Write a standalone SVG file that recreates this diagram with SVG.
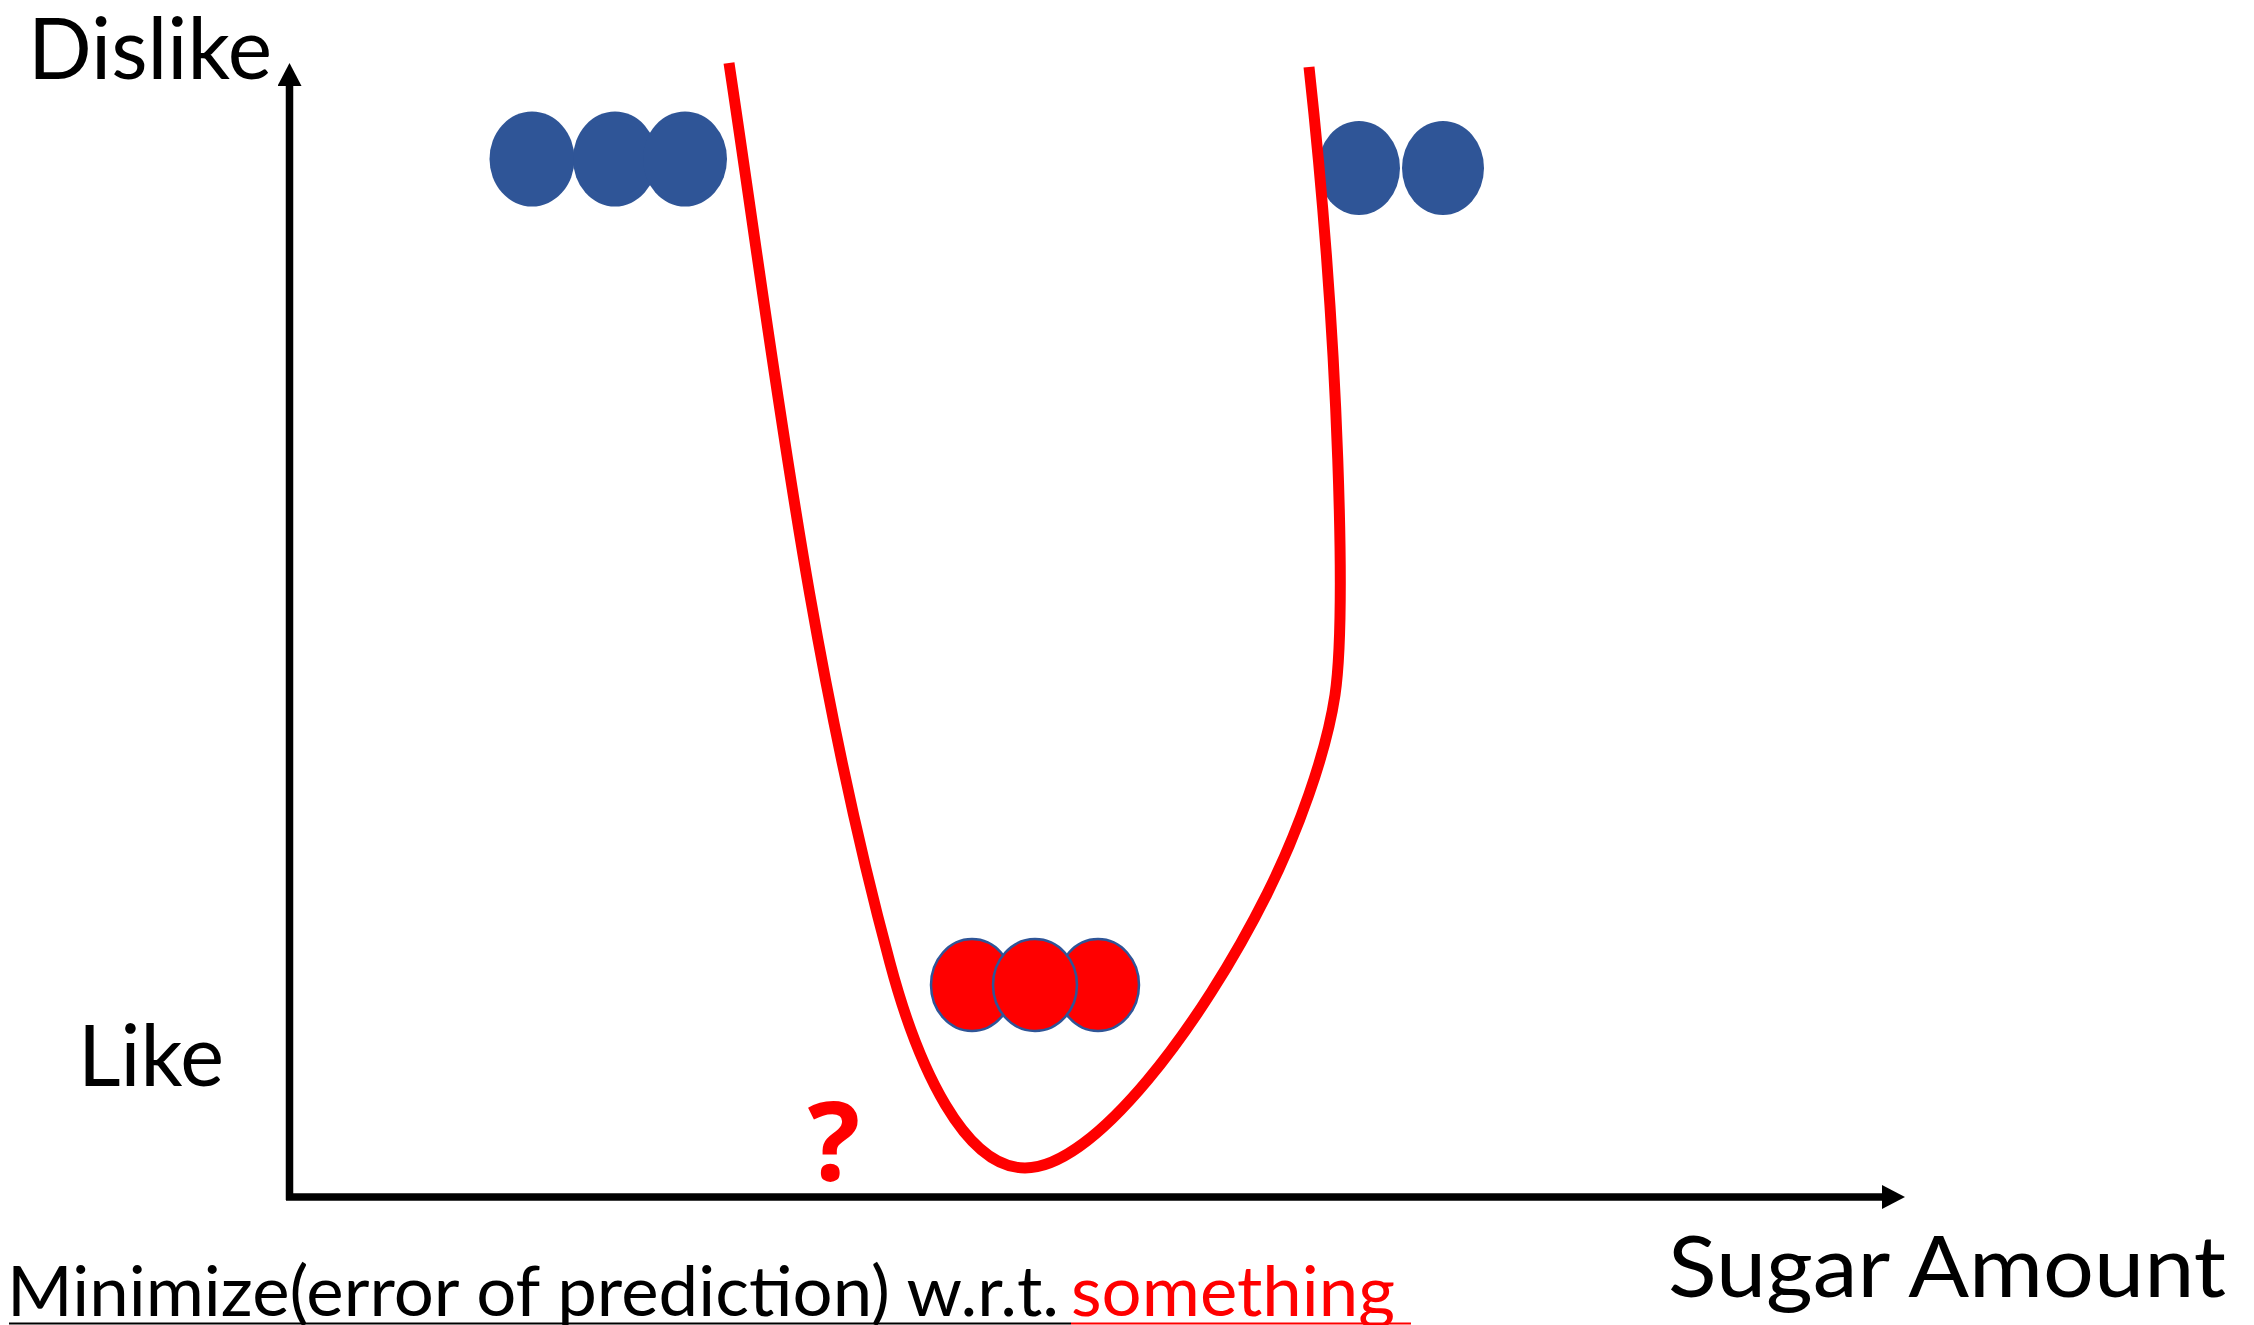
<svg xmlns="http://www.w3.org/2000/svg" width="2254" height="1325" viewBox="0 0 2254 1325">
  <style>
    .lbl { font-family: Lato, "Liberation Sans", sans-serif; fill: #000000; }
    .big { font-size: 85px; }
    .small { font-size: 70px; }
    .axis { stroke: #000000; stroke-width: 7.5; fill: none; }
    .blue { fill: #2F5597; stroke: none; }
    .redpt { fill: #FF0000; stroke: #2F5597; stroke-width: 2.5; }
    .curve { fill: none; stroke: #FF0000; stroke-width: 11; stroke-linejoin: round; }
  </style>
  <defs>
    <marker id="arrow" markerUnits="userSpaceOnUse" markerWidth="24" markerHeight="24" viewBox="0 0 23 24" refX="0" refY="12" orient="auto">
      <path d="M0,0 L23,12 L0,24 Z" fill="#000000"/>
    </marker>
  </defs>
  <rect x="0" y="0" width="2254" height="1325" fill="#FFFFFF"/>

  <g id="connectors">
    <path id="y-axis" class="axis" d="M289.5,1200 L289.5,86" marker-end="url(#arrow)"/>
    <path id="x-axis" class="axis" d="M286,1197 L1882,1197" marker-end="url(#arrow)"/>
  </g>

  <g id="blue-left">
    <ellipse class="blue" cx="532" cy="159" rx="42.5" ry="47.5"/>
    <ellipse class="blue" cx="615" cy="159" rx="42" ry="47.5"/>
    <ellipse class="blue" cx="685" cy="159" rx="42" ry="47.5"/>
  </g>
  <g id="blue-right">
    <ellipse class="blue" cx="1359" cy="168" rx="41" ry="47"/>
    <ellipse class="blue" cx="1443" cy="168" rx="41" ry="47"/>
  </g>

  <g id="curve">
    <path class="curve" d="M729,63 C774,363 809,663 890,963 C918,1068 965,1168 1025,1168 C1095,1168 1202,1024 1267,894 C1297,834 1326,755 1335,695 C1346,620 1340,350 1309,67"/>
  </g>

  <g id="red-points">
    <ellipse class="redpt" cx="972" cy="985" rx="41" ry="46"/>
    <ellipse class="redpt" cx="1098" cy="985" rx="41" ry="46"/>
    <ellipse class="redpt" cx="1035" cy="985" rx="42" ry="46"/>
  </g>

  <g id="label-dislike">
    <text class="lbl big" x="28" y="79" textLength="244" lengthAdjust="spacingAndGlyphs">Dislike</text>
  </g>
  <g id="label-like">
    <text class="lbl big" x="78" y="1086" textLength="146" lengthAdjust="spacingAndGlyphs">Like</text>
  </g>
  <g id="label-sugar">
    <text class="lbl big" x="1668" y="1297" textLength="558" lengthAdjust="spacingAndGlyphs">Sugar Amount</text>
  </g>
  <g id="label-question">
    <text x="834" y="1181" text-anchor="middle" style="font-family: 'Open Sans', 'Liberation Sans', sans-serif; font-weight: bold; font-size: 110px; fill: #FF0000;">?</text>
  </g>
  <g id="label-minimize">
    <text class="lbl small" x="7" y="1316" textLength="1052" lengthAdjust="spacingAndGlyphs">Minimize(error of prediction) w.r.t.</text>
    <text class="lbl small" x="1071" y="1316" textLength="324" lengthAdjust="spacingAndGlyphs" style="fill:#FF0000">something</text>
    <line x1="9" y1="1323.5" x2="1071" y2="1323.5" stroke="#000000" stroke-width="2"/>
    <line x1="1071" y1="1323.5" x2="1411" y2="1323.5" stroke="#FF0000" stroke-width="2"/>
  </g>
</svg>
